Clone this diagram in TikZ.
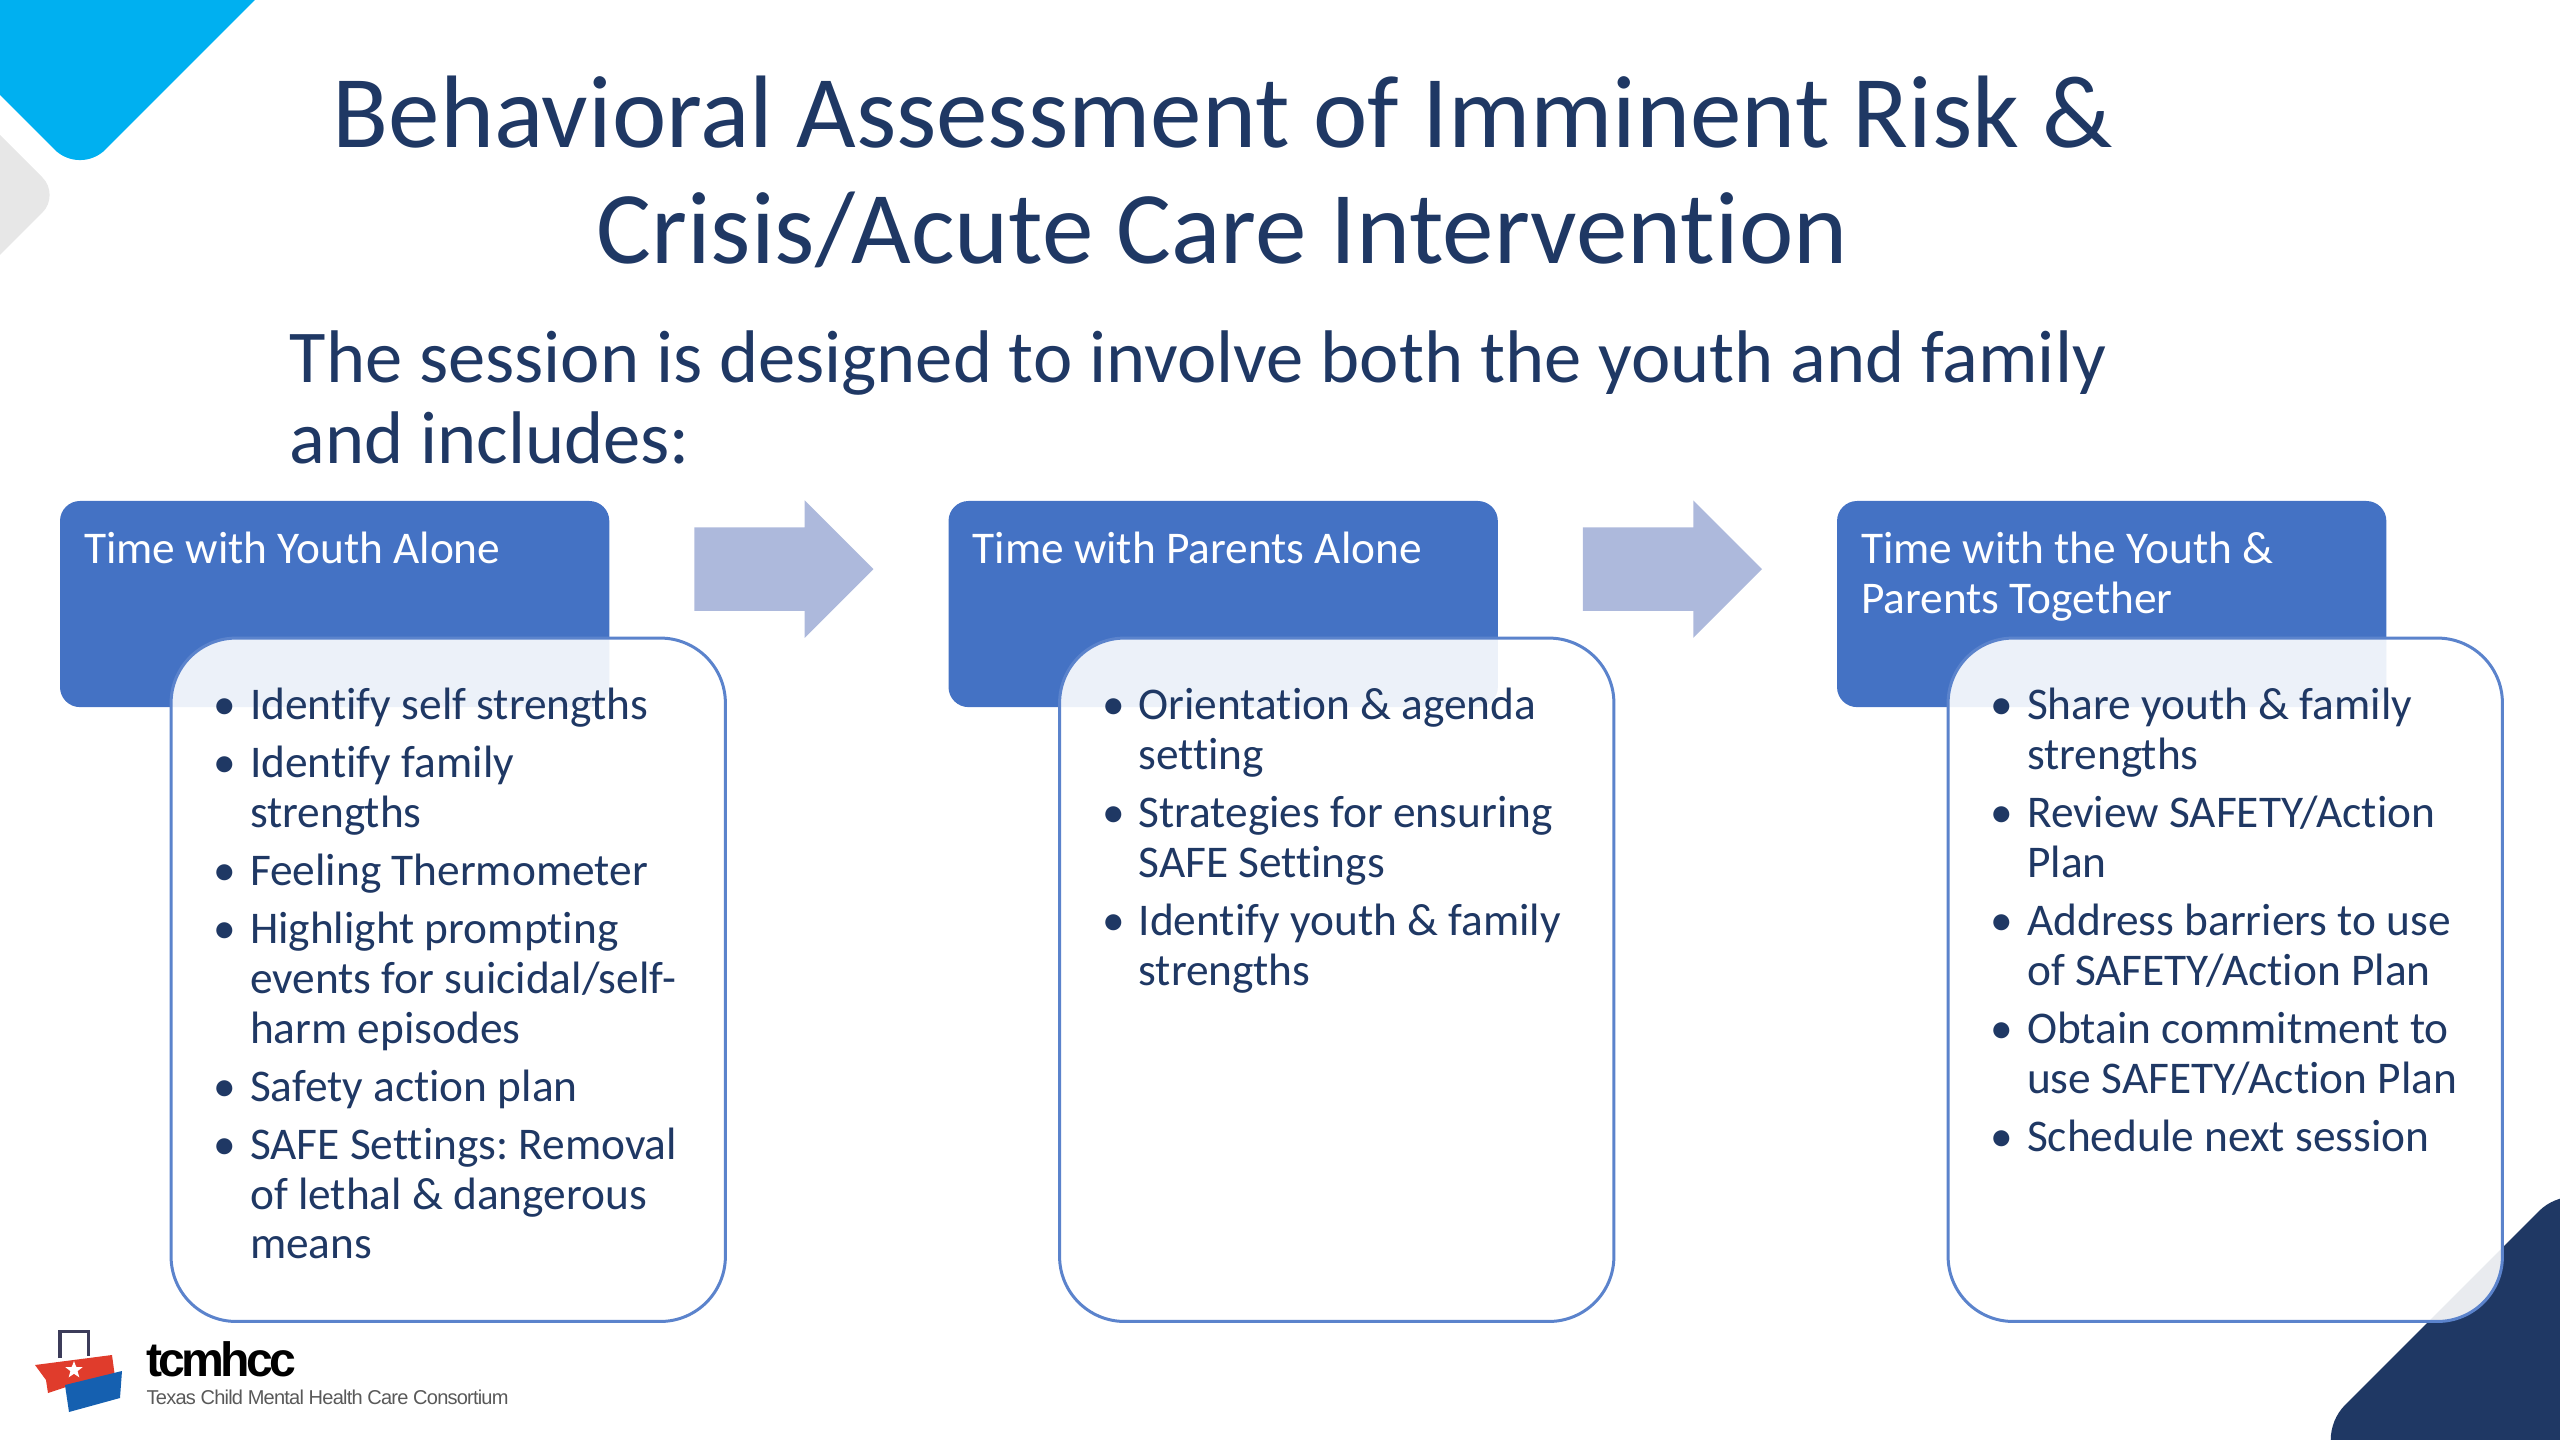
\documentclass[tikz,border=0pt]{standalone}
\usepackage{fontspec}
\setmainfont[Ligatures=NoCommon]{Carlito}
\newfontfamily\logofont[LetterSpace=-8]{Liberation Sans}
\newfontfamily\logosmall[LetterSpace=-4]{Liberation Sans}
\usetikzlibrary{positioning}
\usetikzlibrary{shapes.arrows}
\usetikzlibrary{shapes.geometric}
\frenchspacing
\definecolor{navy}{HTML}{1F3864}
\definecolor{cornerblue}{HTML}{00B0F0}
\definecolor{cornergray}{HTML}{E7E7E7}
\definecolor{cornernavy}{HTML}{1F3864}
\definecolor{headblue}{HTML}{4472C4}
\definecolor{bodyline}{HTML}{5B83CC}
\definecolor{arrowblue}{HTML}{ADB9DC}
\definecolor{logored}{HTML}{E03C2C}
\definecolor{logoblue}{HTML}{1560B0}
\definecolor{logohandle}{HTML}{3C3C5A}
\newenvironment{pointlist}{\begin{list}{\textbullet}{\setlength{\leftmargin}{.44cm}\setlength{\labelwidth}{.3cm}\setlength{\labelsep}{.14cm}\setlength{\itemsep}{.08cm}\setlength{\parsep}{0pt}\setlength{\topsep}{0pt}\setlength{\partopsep}{0pt}\setlength{\itemindent}{0pt}}}{\end{list}}
\newcommand{\bodytext}[1]{\begin{minipage}[t][5.83cm][t]{4.84cm}\begin{pointlist}#1\end{pointlist}\end{minipage}}
\newcommand{\headtext}[1]{\begin{minipage}[t][1.44cm][t]{5.01cm}\raggedright #1\end{minipage}}

\begin{document}
\begin{tikzpicture}[x=0.01cm, y=-0.01cm,
    headbox/.style={fill=headblue, text=white, rounded corners=.2cm, inner xsep=.24cm, inner ysep=.31cm, outer sep=0, anchor=north west, font=\fontsize{12.9}{14.2}\selectfont},
    bodybox/.style={draw=bodyline, line width=.03cm, fill=white, fill opacity=.9, text opacity=1, text=navy, rounded corners=.65cm, inner xsep=.35cm, inner ysep=.5cm, outer sep=0, font=\fontsize{12.9}{14.2}\selectfont},
    blockarrow/.style={single arrow, fill=arrowblue, minimum height=1.79cm, inner xsep=0, inner ysep=.41cm, single arrow head extend=.27cm, single arrow tip angle=90, outer sep=0, yshift=.35cm}]
    \useasboundingbox (0,0) rectangle (2560,1440);
    \begin{scope}
        \clip (0,0) rectangle (2560,1440);
        \fill[cornergray, rounded corners=.25cm] (-150,-15) -- (60,195) -- (-150,405) -- cycle;
        \fill[cornerblue, rounded corners=.36cm] (-200,-100) -- (355,-100) -- (80,175) -- (-200,-105) -- cycle;
        \fill[cornernavy, rounded corners=.5cm] (2310,1440) -- (2574,1176) -- (2800,1400) -- (2530,1660) -- cycle;
    \end{scope}

    \node[anchor=base, text=navy, font=\fontsize{29.3}{33}\selectfont] (TITLEA) at (1223,148) {Behavioral Assessment of Imminent Risk \&};
    \node[anchor=base, text=navy, font=\fontsize{29.3}{33}\selectfont] (TITLEB) at (1222,264) {Crisis/Acute Care Intervention};
    \node[anchor=base west, inner sep=0, text=navy, font=\fontsize{21.2}{22.8}\selectfont] (SUBA) at (289,383) {The session is designed to involve both the youth and family};
    \node[anchor=base west, inner sep=0, text=navy, font=\fontsize{21.2}{22.8}\selectfont] (SUBB) at (289,464) {and includes:};

    \node[headbox] (H1) at (60,501) {\headtext{Time with Youth Alone}};
    \node[headbox, right = 3.39cm of H1.north east, anchor=north west] (H2) {\headtext{Time with Parents Alone}};
    \node[headbox, right = 3.39cm of H2.north east, anchor=north west] (H3) {\headtext{Time with the Youth \&\\ Parents Together}};

    \node[blockarrow, right = .85cm of H1] (AR1) {};
    \node[blockarrow, right = .85cm of H2] (AR2) {};

    \node[bodybox, below right = -.69cm and -4.38cm of H1] (B1) {\bodytext{
        \item Identify self strengths
        \item Identify family\\ strengths
        \item Feeling Thermometer
        \item Highlight prompting\\ events for suicidal/self-\\ harm episodes
        \item Safety action plan
        \item SAFE Settings: Removal\\ of lethal \& dangerous\\ means}};
    \node[bodybox, below right = -.69cm and -4.38cm of H2] (B2) {\bodytext{
        \item Orientation \& agenda\\ setting
        \item Strategies for ensuring\\ SAFE Settings
        \item Identify youth \& family\\ strengths}};
    \node[bodybox, below right = -.69cm and -4.38cm of H3] (B3) {\bodytext{
        \item Share youth \& family\\ strengths
        \item Review SAFETY/Action\\ Plan
        \item Address barriers to use\\ of SAFETY/Action Plan
        \item Obtain commitment to\\ use SAFETY/Action Plan
        \item Schedule next session}};

    % logo
    \draw[logohandle, line width=.03cm] (60,1358) -- (60,1331) -- (88,1331) -- (88,1356);
    \fill[logored] (35,1365) -- (112,1355) -- (115,1377) -- (66,1387) -- (48,1393) -- (46,1380) -- cycle;
    \fill[logoblue] (65,1385) -- (122,1371) -- (120,1398) -- (69,1412) -- cycle;
    \node[star, star points=5, star point ratio=2.4, fill=white, inner sep=0, minimum size=.18cm] (LOGOSTAR) at (74,1370) {};
    \node[anchor=base west, inner sep=0, font=\logofont\bfseries\fontsize{13.7}{14}\selectfont] (LOGOA) at (146,1376) {tcmhcc};
    \node[anchor=base west, inner sep=0, text=black!65, font=\logosmall\fontsize{5.7}{7}\selectfont] (LOGOB) at (146,1404) {Texas Child Mental Health Care Consortium};
\end{tikzpicture}
\end{document}
